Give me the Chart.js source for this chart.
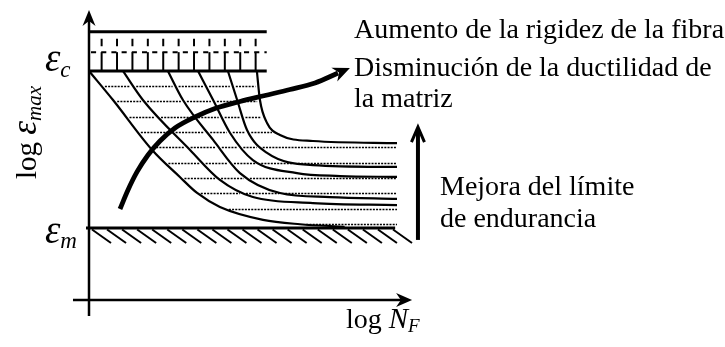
<!DOCTYPE html>
<html>
<head>
<meta charset="utf-8">
<script src="https://cdn.jsdelivr.net/npm/chart.js@4.4.1/dist/chart.umd.min.js"></script>
<style>
  html, body { margin: 0; padding: 0; background: #fff; }
  canvas { display: block; }
</style>
</head>
<body>
<canvas id="chart" width="725" height="347"></canvas>
<script>
// fatigue curves: [log N_F, log eps_max]
// log N_F: 0 at the vertical axis, 10 where the curves stop
// log eps_max: 0 = eps_m (endurance limit), 1 = eps_c
const curve1 = [[0, 1], [0.78, 0.815], [2.05, 0.497], [2.95, 0.325], [3.51, 0.223], [4.25, 0.134], [5.65, 0.052], [6.85, 0.024], [8.3, 0.008]];
const curve2 = [[1.10, 1], [1.75, 0.815], [3.28, 0.497], [4.25, 0.306], [5.32, 0.197], [7.27, 0.159], [10, 0.146]];
const curve3 = [[2.56, 1], [3.05, 0.815], [4.03, 0.561], [4.90, 0.350], [6.20, 0.223], [7.82, 0.197], [10, 0.185]];
const curve4 = [[3.54, 1], [4.03, 0.815], [4.58, 0.605], [5.32, 0.433], [6.75, 0.350], [8.15, 0.331], [10, 0.325]];
const curve5 = [[4.51, 1], [4.81, 0.815], [5.13, 0.624], [5.78, 0.478], [7.27, 0.401], [10, 0.389]];
const curve6 = [[5.45, 1], [5.55, 0.815], [5.78, 0.669], [6.20, 0.592], [7.27, 0.554], [10, 0.541]];

// thick arrow: stiffer fibre / less ductile matrix
const trend = [[1.006, 0.121], [1.266, 0.242], [1.558, 0.357], [1.916, 0.465], [2.305, 0.554], [2.792, 0.637],
  [3.442, 0.707], [4.091, 0.761], [4.903, 0.806], [5.714, 0.844], [6.526, 0.882], [7.338, 0.924], [8.084, 0.987]];

// levels of the dotted shading between the curves
const shadeLevels = [0.905, 0.808, 0.71, 0.612, 0.515, 0.417, 0.32, 0.222, 0.124, 0.026];

const epsC = 1, epsM = 0;
const logNEnd = 10;

const FONT = '"Liberation Serif", "Times New Roman", serif';
const curves = [curve1, curve2, curve3, curve4, curve5, curve6];
const toXY = arr => arr.map(p => ({ x: p[0], y: p[1] }));

const datasets = curves.map(c => ({
  data: toXY(c),
  borderColor: '#000',
  borderWidth: 2.2,
  pointRadius: 0,
  cubicInterpolationMode: 'monotone',
  fill: false
}));
datasets.push({
  data: toXY(trend),
  borderColor: '#000',
  borderWidth: 4.8,
  pointRadius: 0,
  cubicInterpolationMode: 'monotone',
  fill: false
});

// x of a dataset's drawn line at a given pixel height
function crossAt(meta, yp) {
  const pts = meta.data;
  for (let i = 0; i < pts.length - 1; i++) {
    const a = pts[i], b = pts[i + 1];
    const c1x = a.cp2x ?? a.x, c1y = a.cp2y ?? a.y;
    const c2x = b.cp1x ?? b.x, c2y = b.cp1y ?? b.y;
    let x0 = a.x, y0 = a.y;
    for (let s = 1; s <= 60; s++) {
      const t = s / 60, m = 1 - t;
      const x = m * m * m * a.x + 3 * m * m * t * c1x + 3 * m * t * t * c2x + t * t * t * b.x;
      const y = m * m * m * a.y + 3 * m * m * t * c1y + 3 * m * t * t * c2y + t * t * t * b.y;
      if (y !== y0 && (y0 - yp) * (y - yp) <= 0) return x0 + (x - x0) * (yp - y0) / (y - y0);
      x0 = x; y0 = y;
    }
  }
  return null;
}

function line(ctx, x1, y1, x2, y2) {
  ctx.beginPath();
  ctx.moveTo(x1, y1);
  ctx.lineTo(x2, y2);
  ctx.stroke();
}

function arrowHead(ctx, x, y, ang, len, half) {
  ctx.save();
  ctx.translate(x, y);
  ctx.rotate(ang);
  ctx.beginPath();
  ctx.moveTo(0, 0);
  ctx.lineTo(-len, -half);
  ctx.lineTo(-len * 0.7, 0);
  ctx.lineTo(-len, half);
  ctx.closePath();
  ctx.fill();
  ctx.restore();
}

// text runs with sub-scripts: [text, font, dy]
function runs(ctx, x, y, parts) {
  parts.forEach(([t, f, dy]) => {
    ctx.font = f;
    ctx.fillText(t, x, y + (dy || 0));
    x += ctx.measureText(t).width;
  });
}

const diagram = {
  id: 'diagram',
  afterDatasetsDraw(chart) {
    const ctx = chart.ctx;
    const X = v => chart.scales.x.getPixelForValue(v);
    const Y = v => chart.scales.y.getPixelForValue(v);
    ctx.save();
    ctx.strokeStyle = '#000';
    ctx.fillStyle = '#000';
    ctx.lineCap = 'butt';

    // dotted shading between the first and last curve
    const metas = curves.map((c, i) => chart.getDatasetMeta(i));
    const gap = 3;
    ctx.lineWidth = 1.6;
    ctx.setLineDash([2, 1.2]);
    shadeLevels.forEach(lv => {
      const yp = Math.round(Y(lv)) + 0.5;
      const xs = metas.map(m => crossAt(m, yp));
      const left = xs[0];
      if (left == null) return;
      const lastCut = xs[5] != null;
      const right = lastCut ? xs[5] : X(logNEnd);
      const inner = xs.slice(1, 5).filter(x => x != null && x > left && x < right).sort((a, b) => a - b);
      const cuts = [left, ...inner, right];
      for (let i = 0; i < cuts.length - 1; i++) {
        const a = cuts[i] + gap;
        const b = cuts[i + 1] - ((i + 1 === cuts.length - 1 && !lastCut) ? 0 : gap);
        if (b - a > 2) line(ctx, a, yp, b, yp);
      }
    });
    ctx.setLineDash([]);

    // band above eps_c
    const bandTop = 1.25, bandMid = 1.12, bandEnd = 5.77;
    ctx.lineWidth = 3;
    line(ctx, X(0), Y(bandTop), X(bandEnd), Y(bandTop));
    line(ctx, X(0), Y(epsC), X(bandEnd), Y(epsC));
    ctx.lineWidth = 2;
    ctx.setLineDash([5.1, 5.1]);
    line(ctx, X(0) + 2, Y(bandMid), X(bandEnd), Y(bandMid));
    ctx.setLineDash([]);
    for (let u = 0.41; u < bandEnd - 0.2; u += 0.5) {
      line(ctx, X(u), Y(bandTop) + 7, X(u), Y(bandTop) + 14.5);
      line(ctx, X(u), Y(bandMid), X(u), Y(epsC));
    }

    // eps_m line with hatching below
    const hatchEnd = 9.94;
    ctx.lineWidth = 3;
    line(ctx, X(0) - 3, Y(epsM), X(hatchEnd), Y(epsM));
    ctx.lineWidth = 2;
    for (let xh = X(0) + 3; xh <= X(hatchEnd); xh += 15.05) {
      line(ctx, xh, Y(epsM) + 1.5, xh + 19, Y(epsM) + 15);
    }

    // axes
    ctx.lineWidth = 2.5;
    const yAxisTop = 1.389, yAxisBottom = -0.56, xAxisAt = -0.459;
    line(ctx, X(0), Y(yAxisBottom), X(0), Y(yAxisTop) + 10);
    arrowHead(ctx, X(0), Y(yAxisTop), -Math.PI / 2, 16, 6.5);
    line(ctx, X(-0.52), Y(xAxisAt), X(10.49) - 10, Y(xAxisAt));
    arrowHead(ctx, X(10.49), Y(xAxisAt), 0, 16, 7);

    // head of the thick arrow
    const tm = chart.getDatasetMeta(curves.length).data;
    const last = tm[tm.length - 1];
    const ang = Math.atan2(last.y - (last.cp1y ?? tm[tm.length - 2].y), last.x - (last.cp1x ?? tm[tm.length - 2].x));
    arrowHead(ctx, last.x + Math.cos(ang) * 13, last.y + Math.sin(ang) * 13, ang, 17, 7.5);

    // endurance arrow on the right
    const ax = X(10.68);
    ctx.lineWidth = 4;
    line(ctx, ax, Y(-0.076), ax, Y(0.643) + 2);
    ctx.lineWidth = 3;
    ctx.beginPath();
    ctx.moveTo(ax - 6.5, Y(0.643) + 15);
    ctx.lineTo(ax, Y(0.643));
    ctx.lineTo(ax + 6.5, Y(0.643) + 15);
    ctx.stroke();

    // labels
    ctx.textBaseline = 'alphabetic';
    ctx.textAlign = 'left';
    ctx.font = '28px ' + FONT;
    ctx.fillText('Aumento de la rigidez de la fibra', 354, 38);
    ctx.fillText('Disminución de la ductilidad de', 354, 76);
    ctx.fillText('la matriz', 354, 107);
    ctx.fillText('Mejora del límite', 440, 195);
    ctx.fillText('de endurancia', 440, 227);

    runs(ctx, 45, Y(epsC), [['ε', 'italic 39px ' + FONT], ['c', 'italic 23px ' + FONT, 6]]);
    runs(ctx, 45, Y(epsM) + 15, [['ε', 'italic 39px ' + FONT], ['m', 'italic 23px ' + FONT, 5]]);

    runs(ctx, 346, 328, [['log ', '28px ' + FONT], ['N', 'italic 29px ' + FONT], ['F', 'italic 19px ' + FONT, 4]]);

    ctx.save();
    ctx.translate(36, 179);
    ctx.rotate(-Math.PI / 2);
    runs(ctx, 0, 0, [['log ', '29px ' + FONT], ['ε', 'italic 35px ' + FONT], ['max', 'italic 21px ' + FONT, 5]]);
    ctx.restore();

    ctx.restore();
  }
};

new Chart(document.getElementById('chart'), {
  type: 'line',
  data: { datasets },
  options: {
    responsive: false,
    animation: false,
    devicePixelRatio: 1,
    layout: { padding: 0 },
    plugins: { legend: { display: false }, tooltip: { enabled: false } },
    scales: {
      x: { type: 'linear', min: -2.8896, max: 20.649, display: false },
      y: { type: 'linear', min: -0.758, max: 1.4522, display: false }
    }
  },
  plugins: [diagram]
});
</script>
</body>
</html>
